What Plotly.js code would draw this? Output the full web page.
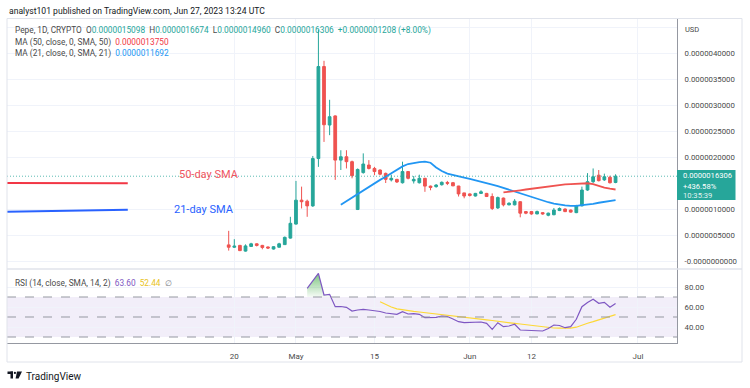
<!DOCTYPE html>
<html><head><meta charset="utf-8">
<script src="https://cdn.plot.ly/plotly-3.0.1.min.js"></script>
<style>html,body{margin:0;padding:0;background:#fff;}#c{width:750px;height:388px;}</style>
</head><body><div id="c"></div>
<script>
// ---- DATA (prices in units of 1e-7 USD) ----
const startDate = '2023-04-19';
const openP  = [3.1,2.65,3.0,1.9,2.8,3.3,3.0,2.7,2.3,2.65,3.15,4.4,7.1,11.7,11.5,10.6,19.7,37.4,26.15,27.9,19.4,20.05,19.1,9.9,17.0,18.45,17.8,17.5,16.85,15.6,15.7,15.05,17.2,15.4,15.05,15.9,14.4,14.3,14.67,15.1,15.06,14.42,13.1,12.9,12.5,13.0,13.0,12.4,10.2,12.1,10.8,10.8,11.4,9.5,9.5,9.05,9.3,8.8,8.9,9.7,10.0,9.8,9.3,10.6,13.65,15.25,16.5,15.6,16.1,15.098];
const highP  = [5.8,4.2,3.1,3.2,3.5,3.4,3.1,2.8,2.85,3.5,4.7,8.5,15.4,14.3,11.8,20.2,44.5,38.5,31.0,28.0,21.3,21.3,19.3,17.8,20.7,19.4,18.1,17.6,17.0,16.6,15.8,19.1,17.3,16.35,16.6,16.0,14.5,14.8,15.3,15.4,15.2,14.45,13.1,13.0,13.1,13.6,13.1,13.0,12.4,12.2,11.3,11.9,11.5,9.6,9.6,9.7,9.4,9.3,10.2,10.3,10.1,9.9,10.8,14.3,16.9,17.8,17.5,16.8,16.4,16.674];
const lowP   = [2.0,2.5,1.9,1.8,2.7,2.8,2.25,2.3,2.2,2.6,3.1,4.3,7.0,10.1,8.5,10.4,18.1,22.9,24.2,15.6,17.5,17.8,15.9,9.8,16.8,17.6,16.5,16.5,15.0,15.3,15.0,14.9,15.7,14.9,14.9,13.3,13.6,14.1,14.5,14.6,14.4,12.4,12.06,12.4,12.4,12.9,12.3,9.8,10.0,10.5,10.7,10.7,8.4,9.0,8.9,9.0,8.9,8.6,8.8,9.6,9.4,9.3,9.2,10.5,13.5,15.0,15.3,15.4,14.9,14.960];
const closeP = [2.65,2.85,2.0,2.9,3.3,3.0,2.6,2.5,2.75,3.3,4.55,7.25,11.7,11.4,10.6,19.7,37.4,26.2,27.75,19.4,20.05,19.1,16.4,17.6,18.65,17.8,17.2,16.7,15.7,15.9,15.2,17.2,15.9,15.7,15.9,14.4,14.15,14.6,15.13,14.95,14.45,12.9,12.5,12.6,13.0,13.3,12.4,10.1,12.2,10.8,11.1,11.5,9.2,9.2,9.05,9.5,9.05,9.2,9.8,10.1,9.5,9.4,10.6,13.65,15.25,16.2,15.45,16.2,15.05,16.306];
// SMA 21 (from index 20) and SMA 50 (from index 49)
const sma21Start = 20;
const sma21 = [10.8,11.5,12.2,12.9,13.5,14.2,14.9,15.6,16.2,16.9,17.6,18.2,18.65,18.85,19.0,19.1,18.9,18.0,17.3,16.8,16.5,16.3,16.05,15.8,15.55,15.3,15.0,14.7,14.4,14.05,13.7,13.3,12.95,12.6,12.25,11.9,11.6,11.3,11.05,10.85,10.7,10.6,10.6,10.75,10.85,11.0,11.2,11.35,11.5,11.692];
const sma50Start = 49;
const sma50 = [13.2,13.3,13.45,13.6,13.75,13.9,14.1,14.25,14.4,14.55,14.65,14.75,14.8,14.85,14.9,14.95,14.8,14.4,14.1,13.9,13.75];
// RSI (from index 14) and its SMA (from index 27)
const rsiStart = 14;
const rsi = [78.7,86.2,93.7,72.0,72.7,60.3,60.5,59.7,56.0,57.0,57.7,57.0,56.3,55.5,54.0,53.0,52.7,55.3,53.0,53.3,52.7,49.3,49.3,49.6,51.0,50.5,48.0,45.3,44.3,44.5,45.3,45.0,43.7,37.7,44.3,40.3,41.0,42.7,37.0,36.8,36.7,36.5,36.0,38.5,42.0,41.5,39.3,40.3,47.7,60.3,64.5,67.7,63.7,64.7,59.7,63.6];
const rsiMaStart = 27;
const rsiMa = [65.3,62.5,60.0,58.2,57.2,56.4,55.7,55.0,54.4,53.9,53.3,52.6,52.0,51.3,50.7,50.0,49.3,48.6,47.9,47.2,46.5,45.6,45.0,44.3,43.6,43.0,42.3,41.5,40.8,40.0,39.4,39.0,38.8,38.7,38.8,39.8,42.2,43.8,45.4,47.1,48.8,50.4,52.44];
// Drawn trend lines on the left
const drawX = ['2023-03-09','2023-04-01'];
const draw50 = [15.0, 14.95];
const draw21 = [9.42, 9.87];
// Axis ticks
const priceTickVals = [0,5,10,20,25,30,35,40,45];
const priceTickText = ['-0.0000000000','0.0000005000','0.0000010000','0.0000020000','0.0000025000','0.0000030000','0.0000035000','0.0000040000',''];
const rsiTickVals = [80,60,40];
const rsiTickText = ['80.00','60.00','40.00'];
const dateTickVals = ['2023-04-20','2023-05-01','2023-05-15','2023-06-01','2023-06-12','2023-07-01'];
const dateTickText = ['20','May','15','Jun','12','Jul'];
const lastPrice = 16.306;

// ---- helpers ----
const U = 1e-7;
const sc = a => a.map(v => v * U);
function dayStr(i){const d=new Date(startDate+'T00:00:00Z');d.setUTCDate(d.getUTCDate()+i);return d.toISOString().slice(0,10);}
const dates = openP.map((_,i)=>dayStr(i));
const sub = (s,n)=>dates.slice(s,s+n);
const L=7,R=677,T=18,B=343;
const px=x=>(x-L)/(R-L), py=y=>(B-y)/(B-T);
const FONT='Roboto, "Liberation Sans", sans-serif';
const UP='#26a69a', DN='#ef5350';

const traces = [
 {type:'candlestick',x:dates,open:sc(openP),high:sc(highP),low:sc(lowP),close:sc(closeP),
  increasing:{line:{color:UP,width:1},fillcolor:UP},decreasing:{line:{color:DN,width:1},fillcolor:DN},
  whiskerwidth:0,xaxis:'x',yaxis:'y',hoverinfo:'skip',showlegend:false},
 {type:'scatter',mode:'lines',x:sub(sma21Start,sma21.length),y:sc(sma21),line:{color:'#2196f3',width:1.8},yaxis:'y',showlegend:false,hoverinfo:'skip'},
 {type:'scatter',mode:'lines',x:sub(sma50Start,sma50.length),y:sc(sma50),line:{color:'#ef5350',width:1.8},yaxis:'y',showlegend:false,hoverinfo:'skip'},
 {type:'scatter',mode:'lines',x:drawX,y:sc(draw50),line:{color:'#f23645',width:2},yaxis:'y',showlegend:false,hoverinfo:'skip'},
 {type:'scatter',mode:'lines',x:drawX,y:sc(draw21),line:{color:'#2962ff',width:2},yaxis:'y',showlegend:false,hoverinfo:'skip'},
 // RSI overbought fill
 {type:'scatter',mode:'lines',x:sub(rsiStart,5),y:[70,70,70,70,70],line:{width:0},yaxis:'y2',showlegend:false,hoverinfo:'skip'},
 {type:'scatter',mode:'lines',x:sub(rsiStart,5),y:rsi.slice(0,5),line:{width:0},fill:'tonexty',
  fillgradient:{type:'vertical',colorscale:[[0,'rgba(76,175,80,0.05)'],[1,'rgba(76,175,80,0.75)']],start:70,stop:94},
  yaxis:'y2',showlegend:false,hoverinfo:'skip'},
 {type:'scatter',mode:'lines',x:sub(rsiMaStart,rsiMa.length),y:rsiMa,line:{color:'#fdd835',width:1.2},yaxis:'y2',showlegend:false,hoverinfo:'skip'},
 {type:'scatter',mode:'lines',x:sub(rsiStart,rsi.length),y:rsi,line:{color:'#7e57c2',width:1.2},yaxis:'y2',showlegend:false,hoverinfo:'skip'}
];

const grid='#f0f3fa', axisLine='#9598a1';
const shapes = [
 {type:'rect',xref:'paper',yref:'y2',x0:0,x1:1,y0:30,y1:70,fillcolor:'rgba(126,87,194,0.1)',line:{width:0},layer:'below'},
 ...[70,50,30].map(v=>({type:'line',xref:'paper',yref:'y2',x0:0,x1:1,y0:v,y1:v,line:{color:'#9598a1',width:1,dash:'dash'}})),
 {type:'line',xref:'paper',yref:'y',x0:0,x1:1,y0:lastPrice*U,y1:lastPrice*U,line:{color:'rgba(38,166,154,0.75)',width:1,dash:'1px,2px'}},
 {type:'line',xref:'paper',yref:'paper',x0:0,x1:px(742),y0:py(269),y1:py(269),line:{color:'#e0e3eb',width:1.5}},
 {type:'rect',xref:'paper',yref:'paper',x0:px(7),x1:px(742),y0:py(362),y1:py(18.5),line:{color:'#e0e3eb',width:1}},
 {type:'rect',xref:'paper',yref:'paper',x0:px(677),x1:px(735.5),y0:py(200),y1:py(170),fillcolor:UP,line:{width:0},layer:'above'},
 // TradingView logo
 {type:'rect',xref:'paper',yref:'paper',x0:px(7.5),x1:px(13),y0:py(374),y1:py(371.5),fillcolor:'#131722',line:{width:0}},
 {type:'rect',xref:'paper',yref:'paper',x0:px(10.5),x1:px(13),y0:py(378.5),y1:py(371.5),fillcolor:'#131722',line:{width:0}},
 {type:'circle',xref:'paper',yref:'paper',x0:px(13.8),x1:px(16),y0:py(374),y1:py(371.8),fillcolor:'#131722',line:{width:0}},
 {type:'path',xref:'paper',yref:'paper',path:`M${px(17)},${py(371.5)} L${px(22)},${py(371.5)} L${px(18.6)},${py(378.5)} L${px(15.6)},${py(378.5)} Z`,fillcolor:'#131722',line:{width:0}}
];

const A=(x,y,text,opt={})=>Object.assign({xref:'paper',yref:'paper',x:px(x),y:py(y),text,showarrow:false,xanchor:'left',yanchor:'middle',font:{family:FONT,size:8.3,color:'#4a4a4a'}},opt);
const g='#26a69a';
const annotations = [
 A(7,11,'analyst101 published on TradingView.com, Jun 27, 2023 13:24 UTC',{font:{family:FONT,size:8.6,color:'#131722'}}),
 A(13,30,`Pepe, 1D, CRYPTO  O<span style="color:${g}">0.0000015098</span>  H<span style="color:${g}">0.0000016674</span>  L<span style="color:${g}">0.0000014960</span>  C<span style="color:${g}">0.0000016306</span>  <span style="color:${g}">+0.0000001208 (+8.00%)</span>`),
 A(13,43,'MA (50, close, 0, SMA, 50)  <span style="color:#f23645">0.0000013750</span>'),
 A(13,53.5,'MA (21, close, 0, SMA, 21)  <span style="color:#2196f3">0.0000011692</span>'),
 A(13,283,'RSI (14, close, SMA, 14, 2)  <span style="color:#7e57c2">63.60</span>  <span style="color:#e8c21c">52.44</span>  <span style="color:#787b86">∅</span>'),
 A(683,29,'USD',{font:{family:FONT,size:7.5,color:'#4a4a4a'}}),
 A(681,175.7,'0.0000016306',{font:{family:FONT,size:7.6,color:'#fff'}}),
 A(681,186,'+436.58%',{font:{family:FONT,size:7.6,color:'#fff'}}),
 A(681,195,'10:35:39',{font:{family:FONT,size:7.6,color:'#e0f2f1'}}),
 A(208.7,174.3,'50-day SMA',{xanchor:'center',font:{family:FONT,size:11,color:'#f0555f'}}),
 A(203.5,209.3,'21-day SMA',{xanchor:'center',font:{family:FONT,size:11,color:'#2962ff'}}),
 A(23.5,376,'TradingView',{font:{family:FONT,size:10,color:'#131722'}})
];

const layout = {
 width:750,height:388,margin:{l:L,r:750-R,t:T,b:388-B},paper_bgcolor:'#fff',plot_bgcolor:'#fff',
 font:{family:FONT,size:8,color:'#4a4a4a'},showlegend:false,
 xaxis:{type:'date',range:['2023-03-10 11:00','2023-07-07 23:00'],anchor:'y2',tickvals:dateTickVals,ticktext:dateTickText,
  showgrid:true,gridcolor:grid,gridwidth:1,zeroline:false,showline:true,linecolor:axisLine,linewidth:1,ticks:'',ticklabelstandoff:5,
  tickfont:{family:FONT,size:8,color:'#4a4a4a'},rangeslider:{visible:false},fixedrange:true},
 yaxis:{domain:[py(269),1],range:[-1.538*U,46.73*U],side:'right',tickvals:sc(priceTickVals),ticktext:priceTickText,
  showgrid:true,gridcolor:grid,zeroline:false,showline:true,linecolor:axisLine,ticks:'',ticklabelstandoff:5,
  tickfont:{family:FONT,size:7.8,color:'#4a4a4a'},fixedrange:true},
 yaxis2:{domain:[0,py(269)],range:[24,98],side:'right',tickvals:rsiTickVals,ticktext:rsiTickText,
  showgrid:true,gridcolor:grid,zeroline:false,showline:true,linecolor:axisLine,ticks:'',ticklabelstandoff:5,
  tickfont:{family:FONT,size:7.8,color:'#4a4a4a'},fixedrange:true},
 shapes, annotations
};
Plotly.newPlot('c',traces,layout,{staticPlot:true,displayModeBar:false});
</script></body></html>
